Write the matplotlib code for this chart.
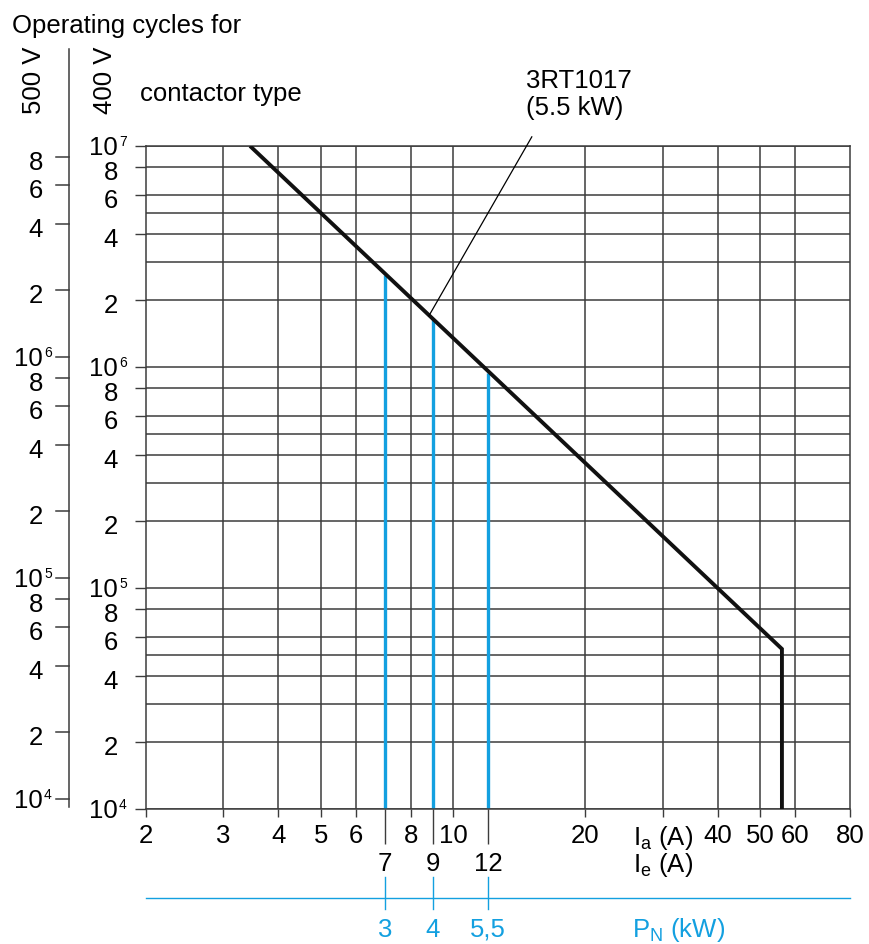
import matplotlib
matplotlib.use("Agg")
import matplotlib.pyplot as plt
import matplotlib.transforms as mtransforms
from matplotlib.ticker import NullLocator

plt.rcParams['font.family'] = ['Liberation Sans', 'DejaVu Sans']
plt.rcParams['mathtext.default'] = 'regular'

# ---------------- data ----------------
curve_current = [3.45, 56, 56]            # Ia (A)
curve_cycles = [1.0e7, 5.3e4, 1.0e4]      # operating cycles at 400 V
ie_values = [7, 9, 12]                    # rated currents Ie (A)
ie_cycles = [2.6e6, 1.65e6, 9.4e5]        # cycles where the blue lines meet the curve
pn_labels = ['3', '4', '5,5']             # P_N (kW)
x_ticks = [2, 3, 4, 5, 6, 8, 10, 20, 30, 40, 50, 60, 80]
x_ticklabels = ['2', '3', '4', '5', '6', '8', '10', '20', 'I$_a$ (A)', '40', '50', '60', '80']
x_grid = [3, 4, 5, 6, 8, 10, 20, 30, 40, 50, 60]
y_ticks = [1e4, 2e4, 4e4, 6e4, 8e4, 1e5, 2e5, 4e5, 6e5, 8e5,
           1e6, 2e6, 4e6, 6e6, 8e6, 1e7]
y_ticklabels_400 = ['10|4', '2', '4', '6', '8', '10|5', '2', '4', '6', '8',
                    '10|6', '2', '4', '6', '8', '10|7']
y_ticks_500 = y_ticks[:-1]
y_ticklabels_500 = y_ticklabels_400[:-1]
ratio_500 = 1.11                          # 500 V scale offset against the 400 V scale
y_grid = [m * 10 ** e for e in (4, 5, 6) for m in (1, 2, 3, 4, 5, 6, 8)] + [1e7]
leader_start = (8.8, 1.7e6)
leader_end = (15.1, 1.1e7)

# ---------------- figure ----------------
W, H = 869, 945
L, R, B, T = 146, 850, 810, 147
fig = plt.figure(figsize=(W / 100, H / 100), dpi=100)
ax = fig.add_axes([L / W, 1 - B / H, (R - L) / W, (B - T) / H])
ax.set_xscale('log')
ax.set_yscale('log')
ax.set_xlim(2, 80)
ax.set_ylim(1e4, 1e7)

gc = '#3c3c3c'
blue = '#13a0e0'
fs = 18.5

for gy in y_grid:
    ax.axhline(gy, color=gc, lw=1.1, zorder=1)
for gx in x_grid:
    ax.axvline(gx, color=gc, lw=1.1, zorder=1)
for s in ax.spines.values():
    s.set_color(gc)
    s.set_linewidth(1.1)

ax.vlines(ie_values, 1e4, ie_cycles, color=blue, lw=2.4, zorder=2)
ax.plot(curve_current, curve_cycles, color='#111111', lw=2.8, zorder=3,
        solid_joinstyle='miter', solid_capstyle='butt')
ax.plot([leader_start[0], leader_end[0]], [leader_start[1], leader_end[1]],
        color='k', lw=0.9, clip_on=False, zorder=4)

# x axis
ax.set_xticks(x_ticks, x_ticklabels)
ax.set_xticks(ie_values, [str(v) for v in ie_values], minor=True)
ax.tick_params(axis='x', which='major', length=6, width=1, color=gc, pad=4, labelsize=fs)
ax.tick_params(axis='x', which='minor', length=25, width=1, color=gc, pad=5, labelsize=fs)

bx = mtransforms.blended_transform_factory(ax.transData, ax.transAxes)
ax.text(30, -0.062, 'I$_e$ (A)', transform=bx, ha='center', va='top', fontsize=fs)

# P_N scale
ax.plot([0, 1], [(B - 899) / (B - T)] * 2, transform=ax.transAxes, color=blue,
        lw=1.0, clip_on=False)
for v, lab in zip(ie_values, pn_labels):
    ax.plot([v, v], [(B - 878) / (B - T), (B - 910) / (B - T)], transform=bx,
            color=blue, lw=1.0, clip_on=False)
    ax.text(v, (B - 937) / (B - T), lab, transform=bx, ha='center', va='baseline',
            fontsize=fs, color=blue)
fig.text(632 / W, 1 - 937 / H, 'P$_N$ (kW)', ha='left', va='baseline',
         fontsize=fs, color=blue)

# y axis (400 V)
ax.set_yticks(y_ticks)
ax.yaxis.set_minor_locator(NullLocator())
ax.tick_params(axis='y', which='major', length=8, width=1, color=gc, labelleft=False)

by = mtransforms.blended_transform_factory(fig.transFigure, ax.transData)


def off(dx, dy):
    return by + mtransforms.ScaledTranslation(dx / 100, -dy / 100, fig.dpi_scale_trans)


def ylabel(xr, v, lab):
    base, _, sup = lab.partition('|')
    if sup:
        ax.text(xr / W, v, base, transform=off(0, 8), ha='right', va='baseline',
                fontsize=fs)
        ax.text((xr + 1) / W, v, sup, transform=off(0, -1), ha='left', va='baseline',
                fontsize=10)
    else:
        ax.text(xr / W, v, base, transform=off(0, 12), ha='right', va='baseline',
                fontsize=fs)


for v, lab in zip(y_ticks, y_ticklabels_400):
    ylabel(118, v, lab)

# 500 V scale
ax.plot([69 / W, 69 / W], [1 - 50 / H, 1 - 808 / H], transform=fig.transFigure,
        color=gc, lw=1.1, clip_on=False)
for v, lab in zip(y_ticks_500, y_ticklabels_500):
    ax.plot([56 / W, 69 / W], [v * ratio_500] * 2, transform=by, color=gc, lw=1.1,
            clip_on=False)
    ylabel(43, v * ratio_500, lab)

# titles
fig.text(12 / W, 1 - 33 / H, 'Operating cycles for', ha='left', va='baseline', fontsize=fs)
fig.text(34 / W, 1 - 80 / H, '500 V', rotation=90, ha='center', va='center', fontsize=fs)
fig.text(105 / W, 1 - 80 / H, '400 V', rotation=90, ha='center', va='center', fontsize=fs)
fig.text(140 / W, 1 - 101 / H, 'contactor type', ha='left', va='baseline', fontsize=fs)
fig.text(526 / W, 1 - 88 / H, '3RT1017', ha='left', va='baseline', fontsize=fs)
fig.text(526 / W, 1 - 115 / H, '(5.5 kW)', ha='left', va='baseline', fontsize=fs)

fig.savefig('out.png', dpi=100)
